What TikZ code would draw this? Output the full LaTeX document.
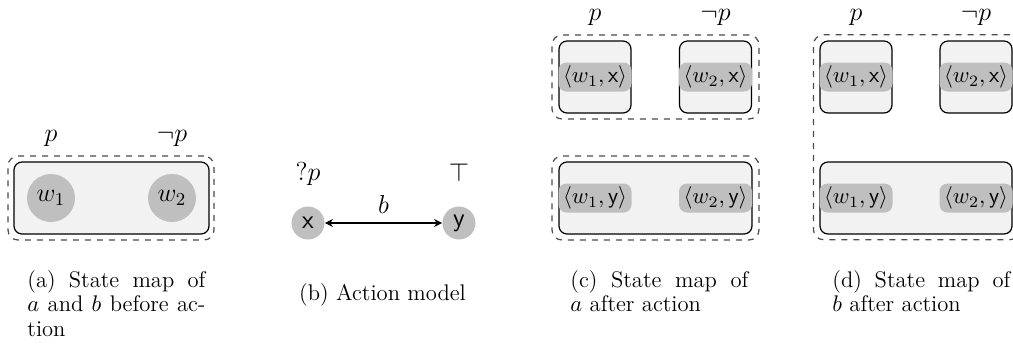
\RequirePackage{fix-cm}
\documentclass[tikz,border=0pt]{standalone}
\usepackage{fontspec}
\usetikzlibrary{arrows.meta}
\newcommand{\capfont}{\fontsize{11.3}{12.25}\selectfont}
\begin{document}
\begin{tikzpicture}[x=0.5pt,y=-0.5pt,
  world/.style={circle, fill=gray!50, minimum size=24pt, inner sep=0pt, font=\fontsize{13}{15}\selectfont},
  act/.style={circle, fill=gray!50, minimum size=16.5pt, inner sep=0pt, font=\fontsize{13}{15}\selectfont\sffamily},
  pill/.style={rectangle, rounded corners=4pt, fill=gray!50, minimum width=36.5pt, minimum height=14.5pt, inner sep=0pt, font=\capfont},
  cell/.style={draw, line width=0.6pt, fill=gray!10, rounded corners=4pt, inner sep=0pt},
  group/.style={draw=black!70, dashed, line width=0.6pt, rounded corners=5pt, inner sep=0pt},
  lbl/.style={anchor=base, inner sep=0pt, font=\fontsize{13}{15}\selectfont},
  captxt/.style={anchor=base west, inner sep=0pt, text width=89pt, align=justify, font=\capfont},
  arr/.style={line width=0.6pt, {Stealth[length=4pt,width=4pt]}-{Stealth[length=4pt,width=4pt]}},
]
\useasboundingbox (0,0) rectangle (1013,345);
\clip (0,0) rectangle (1013,345);

% (a)
\node[group, minimum width=103pt, minimum height=42pt] (ga) at (111,198) {};
\node[cell, minimum width=97.5pt, minimum height=36pt] (ca) at (111.5,198) {};
\node[world] (w1) at (51,198) {$w_1$};
\node[world] (w2) at (172,198) {$w_2$};
\node[lbl] (pa) at (51,141) {$p$};
\node[lbl] (npa) at (172,141) {$\neg p$};

% (b)
\node[act] (ax) at (308,223) {x};
\node[act] (ay) at (459,223) {y};
\node[lbl] (qp) at (308,180) {$?p$};
\node[lbl] (tp) at (459,181) {$\top$};
\draw[arr] (ax) -- (ay);
\node[lbl] (bl) at (383.5,213) {$b$};

% (c)
\node[group, minimum width=103.5pt, minimum height=42pt] (gc1) at (655.5,77) {};
\node[group, minimum width=103.5pt, minimum height=42pt] (gc2) at (655.5,198) {};
\node[cell, minimum width=36pt, minimum height=36pt] (c1) at (595,77) {};
\node[cell, minimum width=36pt, minimum height=36pt] (c2) at (715.5,77) {};
\node[cell, minimum width=96.5pt, minimum height=36pt] (c3) at (655.5,198) {};
\node[pill] (c1x) at (595,77) {$\langle w_1, \mathsf{x}\rangle$};
\node[pill] (c2x) at (715.5,77) {$\langle w_2, \mathsf{x}\rangle$};
\node[pill] (c1y) at (595,198) {$\langle w_1, \mathsf{y}\rangle$};
\node[pill] (c2y) at (715.5,198) {$\langle w_2, \mathsf{y}\rangle$};
\node[lbl] (pc) at (595,20) {$p$};
\node[lbl] (npc) at (715.5,20) {$\neg p$};

% (d)
\node[group, minimum width=103pt, minimum height=102.5pt] (gd) at (916.5,137.25) {};
\node[cell, minimum width=36pt, minimum height=36pt] (d1) at (856,77) {};
\node[cell, minimum width=36pt, minimum height=36pt] (d2) at (976,77) {};
\node[cell, minimum width=96pt, minimum height=36pt] (d3) at (916,198) {};
\node[pill] (d1x) at (856,77) {$\langle w_1, \mathsf{x}\rangle$};
\node[pill] (d2x) at (976,77) {$\langle w_2, \mathsf{x}\rangle$};
\node[pill] (d1y) at (856,198) {$\langle w_1, \mathsf{y}\rangle$};
\node[pill] (d2y) at (976,198) {$\langle w_2, \mathsf{y}\rangle$};
\node[lbl] (pd) at (856,20) {$p$};
\node[lbl] (npd) at (976,20) {$\neg p$};

% captions
\node[captxt] (capa) at (27,287) {\baselineskip=12.25pt\noindent(a) State map of\linebreak $a$ and $b$ before ac-\linebreak tion\par};
\node[anchor=base, inner sep=0pt, font=\capfont] (capb) at (382.5,300) {(b) Action model};
\node[captxt] (capc) at (570,287) {\baselineskip=12.25pt\noindent(c) State map of\linebreak $a$ after action\par};
\node[captxt] (capd) at (832,287) {\baselineskip=12.25pt\noindent(d) State map of\linebreak $b$ after action\par};
\end{tikzpicture}
\end{document}
